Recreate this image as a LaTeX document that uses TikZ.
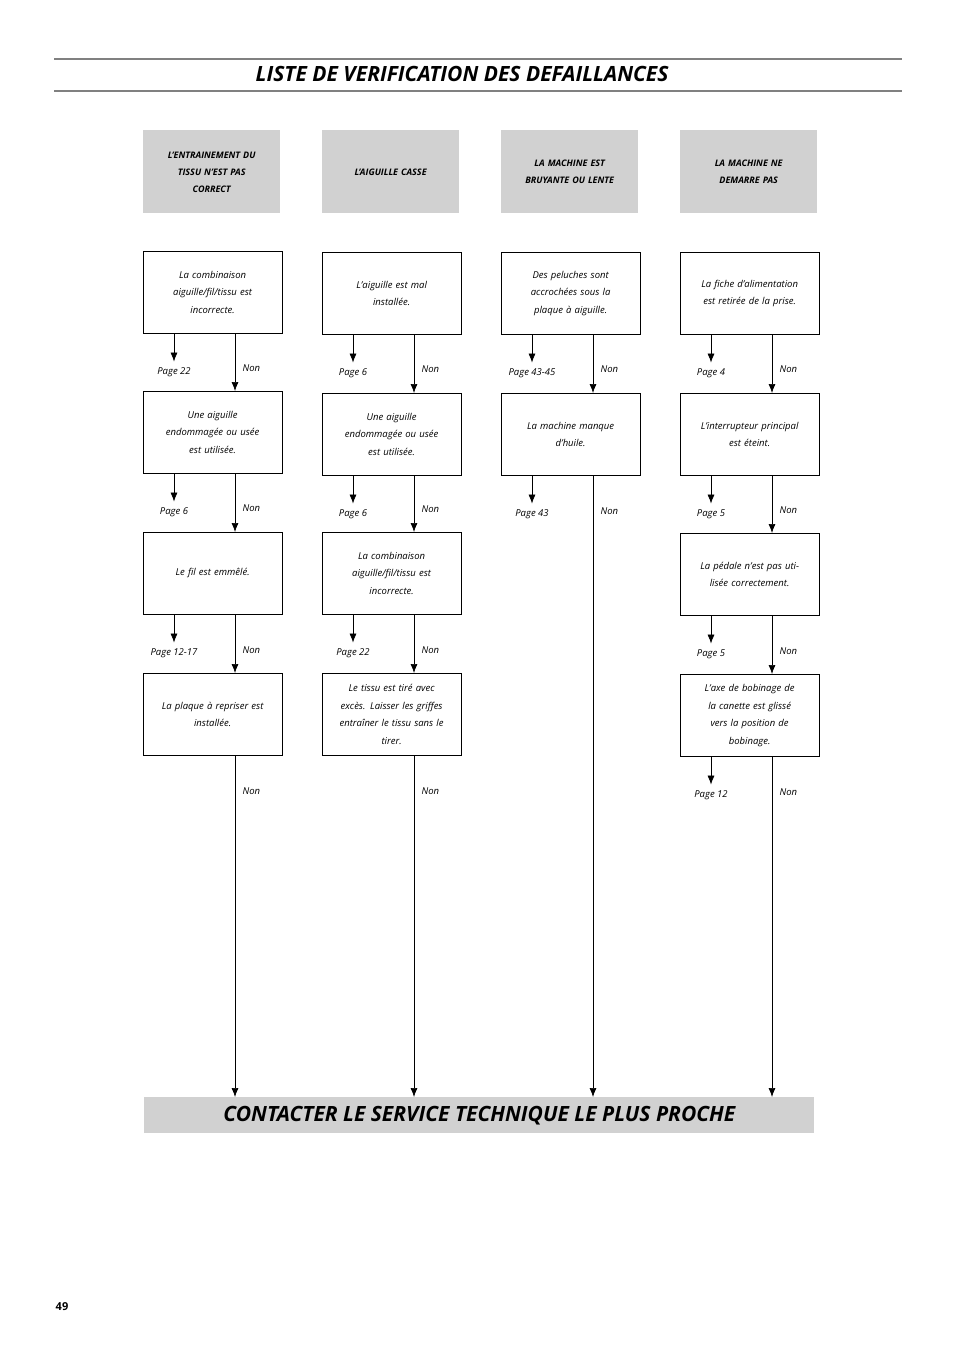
\documentclass[tikz,border=0pt]{standalone}
\usepackage{fontspec}
\setmainfont{Open Sans}
\usetikzlibrary{arrows.meta,positioning,calc}
\tikzset{arrows={-{Latex[length=9pt,width=7pt]}}}
\definecolor{headgray}{gray}{0.82}
\tikzset{
  headbox/.style={fill=headgray, minimum width=134, minimum height=83, text width=130, align=center,
                  anchor=north west, font=\fontsize{9}{17}\selectfont\itshape\bfseries},
  checkbox/.style={draw, line width=0.6pt, minimum width=134, minimum height=82, text width=132, align=center,
                   anchor=north west, font=\fontsize{9.5}{17.5}\selectfont\itshape},
  pagelbl/.style={font=\fontsize{9.5}{11}\selectfont\itshape},
  nonlbl/.style={font=\fontsize{9.5}{11}\selectfont\itshape, anchor=west},
}
\newcommand\pagearrow[3]{% box, column, label
  \draw (#1.south -| a#2) -- ++(0,28) node[pagelbl, below=2pt] {#3};}
\begin{document}
\begin{tikzpicture}[x=1pt, y=-1pt, line width=0.7pt]
  \useasboundingbox (0,0) rectangle (954,1351);
  % title
  \draw[-, line width=2.5pt, gray] (54,59) -- (902,59);
  \draw[-, line width=2.5pt, gray] (54,91) -- (902,91);
  \node[font=\fontsize{21}{24}\selectfont\itshape\bfseries, anchor=west] (title) at (252,74) {LISTE DE VERIFICATION DES DEFAILLANCES};

  % column guides
  \foreach \c/\x in {1/143,2/322,3/501,4/680} {
    \coordinate (a\c) at (\x+31,0);
    \coordinate (n\c) at (\x+92,0);
  }

  % headers
  \node[headbox] (h1) at (143,130) {L'ENTRAINEMENT DU\\TISSU N'EST PAS\\CORRECT};
  \node[headbox] (h2) at (322,130) {L'AIGUILLE CASSE};
  \node[headbox] (h3) at (501,130) {LA MACHINE EST\\BRUYANTE OU LENTE\\[10pt]};
  \node[headbox] (h4) at (680,130) {LA MACHINE NE\\DEMARRE PAS\\[10pt]};

  % column 1
  \node[checkbox] (b11) at (143,251) {La combinaison\\aiguille/fil/tissu est\\incorrecte.\\[12pt]};
  \node[checkbox] (b12) at (143,391) {Une aiguille\\endommagée ou usée\\est utilisée.};
  \node[checkbox] (b13) at (143,532) {Le fil est emmêlé.\\[26pt]};
  \node[checkbox] (b14) at (143,673) {La plaque à repriser est\\installée.};

  % column 2
  \node[checkbox] (b21) at (322,252) {L'aiguille est mal\\installée.};
  \node[checkbox] (b22) at (322,393) {Une aiguille\\endommagée ou usée\\est utilisée.};
  \node[checkbox] (b23) at (322,532) {La combinaison\\aiguille/fil/tissu est\\incorrecte.};
  \node[checkbox] (b24) at (322,673) {Le tissu est tiré avec\\excès. Laisser les griffes\\entraîner le tissu sans le\\tirer.};

  % column 3
  \node[checkbox] (b31) at (501,252) {Des peluches sont\\accrochées sous la\\plaque à aiguille.};
  \node[checkbox] (b32) at (501,393) {La machine manque\\d'huile.};

  % column 4
  \node[checkbox] (b41) at (680,252) {La fiche d'alimentation\\est retirée de la prise.\\[26pt]};
  \node[checkbox] (b42) at (680,393) {L'interrupteur principal\\est éteint.};
  \node[checkbox] (b43) at (680,533) {La pédale n'est pas uti-\\lisée correctement.\\[10pt]};
  \node[checkbox] (b44) at (680,674) {L'axe de bobinage de\\la canette est glissé\\vers la position de\\bobinage.};

  % bottom
  \node[fill=headgray, minimum width=670, minimum height=36, anchor=north west] (contact) at (144,1097) {};
  \node[font=\fontsize{21}{24}\selectfont\itshape\bfseries] (contacttxt) at (contact) {CONTACTER LE SERVICE TECHNIQUE LE PLUS PROCHE};
  \node[font=\fontsize{11}{13}\selectfont\bfseries] (pagenum) at (62,1307) {49};

  % page arrows
  \pagearrow{b11}{1}{Page 22}
  \pagearrow{b12}{1}{Page 6}
  \pagearrow{b13}{1}{Page 12-17}
  \pagearrow{b21}{2}{Page 6}
  \pagearrow{b22}{2}{Page 6}
  \pagearrow{b23}{2}{Page 22}
  \pagearrow{b31}{3}{Page 43-45}
  \pagearrow{b32}{3}{Page 43}
  \pagearrow{b41}{4}{Page 4}
  \pagearrow{b42}{4}{Page 5}
  \pagearrow{b43}{4}{Page 5}
  \pagearrow{b44}{4}{Page 12}

  % non connectors
  \foreach \c/\last in {1/4,2/4,3/2,4/4} {
    \foreach \r [evaluate=\r as \nx using int(\r+1)] in {1,...,\last} {
      \ifnum\r<\last
        \draw (b\c\r.south -| n\c) -- node[nonlbl, pos=0.6, xshift=4pt] {Non} (b\c\nx.north -| n\c);
      \else
        \draw (b\c\r.south -| n\c) -- (contact.north -| n\c);
        \node[nonlbl] at ($(b\c\r.south -| n\c)+(4,36)$) {Non};
      \fi
    }
  }
\end{tikzpicture}
\end{document}
